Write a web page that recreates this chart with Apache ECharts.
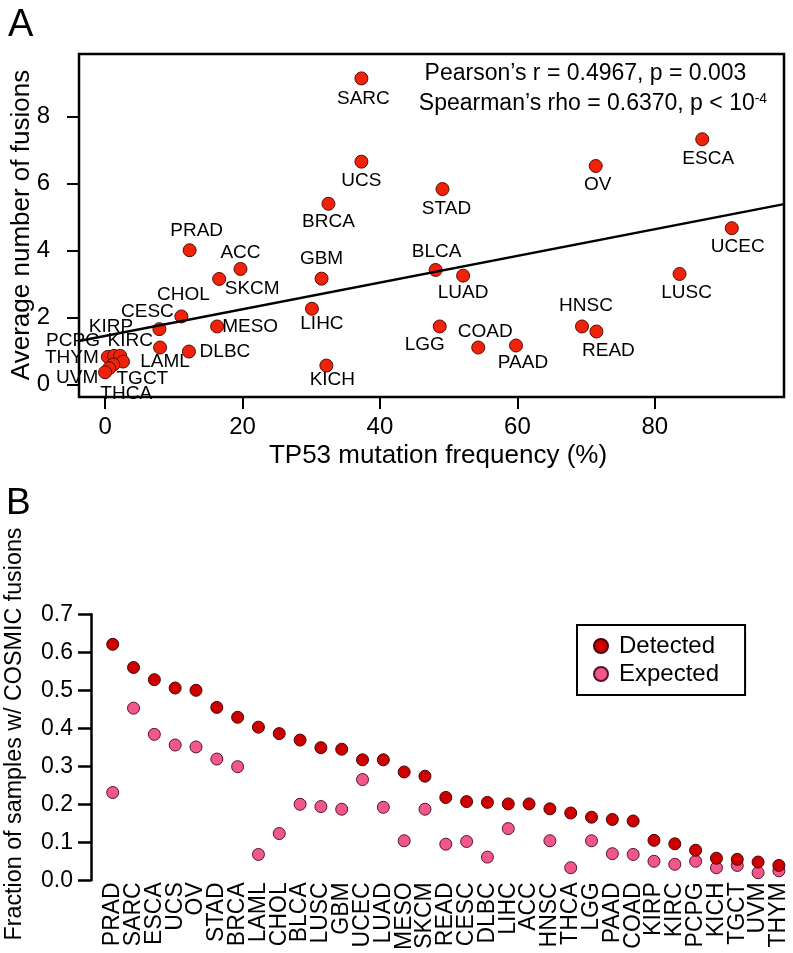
<!DOCTYPE html>
<html><head><meta charset="utf-8">
<script src="https://cdn.jsdelivr.net/npm/echarts@6/dist/echarts.min.js"></script>
<style>html,body{margin:0;padding:0;background:#fff}#c{width:793px;height:953px}</style>
</head><body><div id="c"></div>
<script>
// ---------- Panel A data ----------
const cancersA = ["SARC","UCS","BRCA","PRAD","ACC","SKCM","GBM","CHOL","CESC","LAML","DLBC","MESO","LIHC","KICH",
  "BLCA","LUAD","STAD","OV","ESCA","UCEC","LUSC","HNSC","READ","LGG","COAD","PAAD",
  "THYM","PCPG","KIRC","KIRP","TGCT","THCA","UVM"];
const tp53Freq = [37.3,37.3,32.5,12.3,19.7,16.6,31.5,11.1,7.9,8.0,12.2,16.3,30.1,32.2,
  48.1,52.1,49.1,71.4,86.9,91.2,83.6,69.4,71.5,48.7,54.3,59.8,
  0.4,1.3,2.2,2.6,1.2,0.6,0.0];
const avgFusions = [9.15,6.66,5.40,4.01,3.45,3.15,3.16,2.03,1.65,1.10,0.98,1.73,2.26,0.56,
  3.42,3.25,5.84,6.53,7.33,4.67,3.30,1.73,1.58,1.73,1.10,1.16,
  0.82,0.85,0.85,0.68,0.59,0.48,0.36];
const xTicksA = [0,20,40,60,80];
const yTicksA = [0,2,4,6,8];
const statsLine1 = "Pearson’s r = 0.4967, p = 0.003";
const statsLine2 = "Spearman’s rho = 0.6370, p < 10";
const statsExp = "-4";
const xTitleA = "TP53 mutation frequency (%)";
const yTitleA = "Average number of fusions";

// ---------- Panel B data ----------
const cancersB = ["PRAD","SARC","ESCA","UCS","OV","STAD","BRCA","LAML","CHOL","BLCA","LUSC","GBM","UCEC","LUAD",
  "MESO","SKCM","READ","CESC","DLBC","LIHC","ACC","HNSC","THCA","LGG","PAAD","COAD","KIRP","KIRC","PCPG",
  "KICH","TGCT","UVM","THYM"];
const detected = [0.621,0.560,0.528,0.506,0.500,0.455,0.429,0.403,0.386,0.369,0.349,0.345,0.317,0.317,
  0.285,0.274,0.218,0.207,0.205,0.201,0.201,0.188,0.177,0.166,0.160,0.156,0.105,0.096,0.079,
  0.058,0.055,0.048,0.039];
const expected = [0.231,0.453,0.384,0.356,0.351,0.319,0.299,0.068,0.123,0.200,0.194,0.187,0.265,0.192,
  0.104,0.187,0.095,0.102,0.061,0.136,null,0.104,0.033,0.104,0.070,0.068,0.050,0.042,0.050,
  0.033,0.039,0.020,0.025];
const yTicksB = [0,0.1,0.2,0.3,0.4,0.5,0.6,0.7];
const seriesNamesB = ["Detected","Expected"];
const yTitleB = "Fraction of samples w/ COSMIC fusions";

// ---------- label placement (style, not data) ----------
const labelOffsets = {
  SARC:[2,20], UCS:[0,19], BRCA:[0,18], PRAD:[7,-19], ACC:[0,-16], SKCM:[33,10], GBM:[0,-20],
  CHOL:[2,-22], CESC:[-12,-17], LAML:[5,14], DLBC:[36,0], MESO:[33,0], LIHC:[10,15], KICH:[6,14],
  BLCA:[1,-18], LUAD:[0,17], STAD:[4,20], OV:[2,19], ESCA:[6,20], UCEC:[6,19], LUSC:[7,19],
  HNSC:[4,-21], READ:[12,19], LGG:[-15,18], COAD:[7,-16], PAAD:[7,17],
  THYM:[-36,1], PCPG:[-41,-15], KIRC:[10,-15], KIRP:[-12,-35], TGCT:[29,14], THCA:[17,26], UVM:[-28,6]
};

// least-squares fit from the data
const n = tp53Freq.length;
const mx = tp53Freq.reduce((a,b)=>a+b,0)/n, my = avgFusions.reduce((a,b)=>a+b,0)/n;
let sxy=0, sxx=0;
for (let i=0;i<n;i++){ sxy += (tp53Freq[i]-mx)*(avgFusions[i]-my); sxx += (tp53Freq[i]-mx)**2; }
const slope = sxy/sxx, intercept = my - slope*mx;
const xMinA = -3.8, xMaxA = 98.8, yMinA = -0.38, yMaxA = 9.88;

const FONT = "Liberation Sans, Arial, Helvetica, sans-serif";
const chart = echarts.init(document.getElementById('c'), null, {renderer:'canvas'});
chart.setOption({
  animation:false,
  textStyle:{fontFamily:FONT, color:'#000'},
  grid:[
    {left:79, top:54, width:705, height:343, show:true, borderColor:'#000', borderWidth:2.5, backgroundColor:'transparent'},
    {left:102.3, top:614.3, width:687, height:271, show:false}
  ],
  xAxis:[
    {gridIndex:0, type:'value', min:xMinA, max:xMaxA, splitLine:{show:false},
     axisLine:{show:false, onZero:false},
     axisTick:{show:true, length:12, lineStyle:{color:'#000', width:2}, customValues:xTicksA},
     axisLabel:{fontSize:24, color:'#000', fontFamily:FONT, margin:18, customValues:xTicksA}},
    {gridIndex:1, type:'category', data:cancersB, boundaryGap:true,
     axisLine:{show:false, onZero:false}, axisTick:{show:false}, splitLine:{show:false},
     axisLabel:{interval:0, rotate:90, fontSize:23, color:'#000', fontFamily:FONT, margin:2}}
  ],
  yAxis:[
    {gridIndex:0, type:'value', min:yMinA, max:yMaxA, splitLine:{show:false},
     axisLine:{show:false, onZero:false},
     axisTick:{show:true, length:12, lineStyle:{color:'#000', width:2}, customValues:yTicksA},
     axisLabel:{fontSize:24, color:'#000', fontFamily:FONT, margin:29, customValues:yTicksA}},
    {gridIndex:1, type:'value', min:yTicksB[0], max:yTicksB[yTicksB.length-1], interval:0.1, offset:11.3,
     splitLine:{show:false},
     axisLine:{show:true, onZero:false, lineStyle:{color:'#000', width:2.5}},
     axisTick:{show:true, length:13, lineStyle:{color:'#000', width:2.5}},
     axisLabel:{fontSize:23, color:'#000', fontFamily:FONT, margin:18, formatter:v=>v.toFixed(1)}}
  ],
  legend:{
    data:seriesNamesB, left:577, top:625, orient:'vertical', icon:'circle',
    borderColor:'#000', borderWidth:2, padding:[9,26,9,16], itemWidth:14, itemHeight:14, itemGap:4,
    textStyle:{fontSize:24, color:'#000', fontFamily:FONT, padding:[0,0,0,6]}
  },
  graphic:[
    {type:'text', left:8, top:7, style:{text:'A', fontSize:38, fontFamily:FONT, fill:'#000'}},
    {type:'text', left:6, top:485, style:{text:'B', fontSize:37, fontFamily:FONT, fill:'#000'}},
    {type:'text', x:22, y:225, rotation:Math.PI/2, style:{text:yTitleA, fontSize:26, fontFamily:FONT, fill:'#000', align:'center', verticalAlign:'middle'}},
    {type:'text', x:438, y:456, style:{text:xTitleA, fontSize:26, fontFamily:FONT, fill:'#000', align:'center', verticalAlign:'middle'}},
    {type:'text', x:15, y:734, rotation:Math.PI/2, style:{text:yTitleB, fontSize:23.3, fontFamily:FONT, fill:'#000', align:'center', verticalAlign:'middle'}},
    {type:'text', x:585.5, y:74, style:{text:statsLine1, fontSize:23, fontFamily:FONT, fill:'#000', align:'center', verticalAlign:'middle'}},
    {type:'text', x:593, y:104, style:{text:statsLine2+'{sup|'+statsExp+'}', fontSize:23, fontFamily:FONT, fill:'#000', align:'center', verticalAlign:'middle',
      rich:{sup:{fontSize:14, fontFamily:FONT, fill:'#000', verticalAlign:'top'}}}}
  ],
  series:[
    {type:'scatter', xAxisIndex:0, yAxisIndex:0, symbolSize:13, z:3,
     itemStyle:{color:'#F0220A', borderColor:'#5a0a00', borderWidth:1, opacity:1},
     label:{show:true, position:'inside', formatter:'{b}', color:'#000', fontSize:19, fontFamily:FONT, textBorderWidth:0},
     data:cancersA.map((nm,i)=>({name:nm, value:[tp53Freq[i], avgFusions[i]], label:{offset:labelOffsets[nm]||[0,0]}}))},
    {type:'line', xAxisIndex:0, yAxisIndex:0, symbol:'none', z:4, silent:true,
     lineStyle:{color:'#000', width:2.5},
     data:[[xMinA, intercept+slope*xMinA],[xMaxA, intercept+slope*xMaxA]]},
    {name:seriesNamesB[0], type:'scatter', xAxisIndex:1, yAxisIndex:1, symbolSize:12, z:3,
     itemStyle:{color:'#CC0000', borderColor:'#4a0000', borderWidth:1, opacity:1},
     data:detected},
    {name:seriesNamesB[1], type:'scatter', xAxisIndex:1, yAxisIndex:1, symbolSize:12, z:2,
     itemStyle:{color:'#F0578C', borderColor:'#5a1028', borderWidth:1, opacity:1},
     data:expected}
  ]
});
</script></body></html>
